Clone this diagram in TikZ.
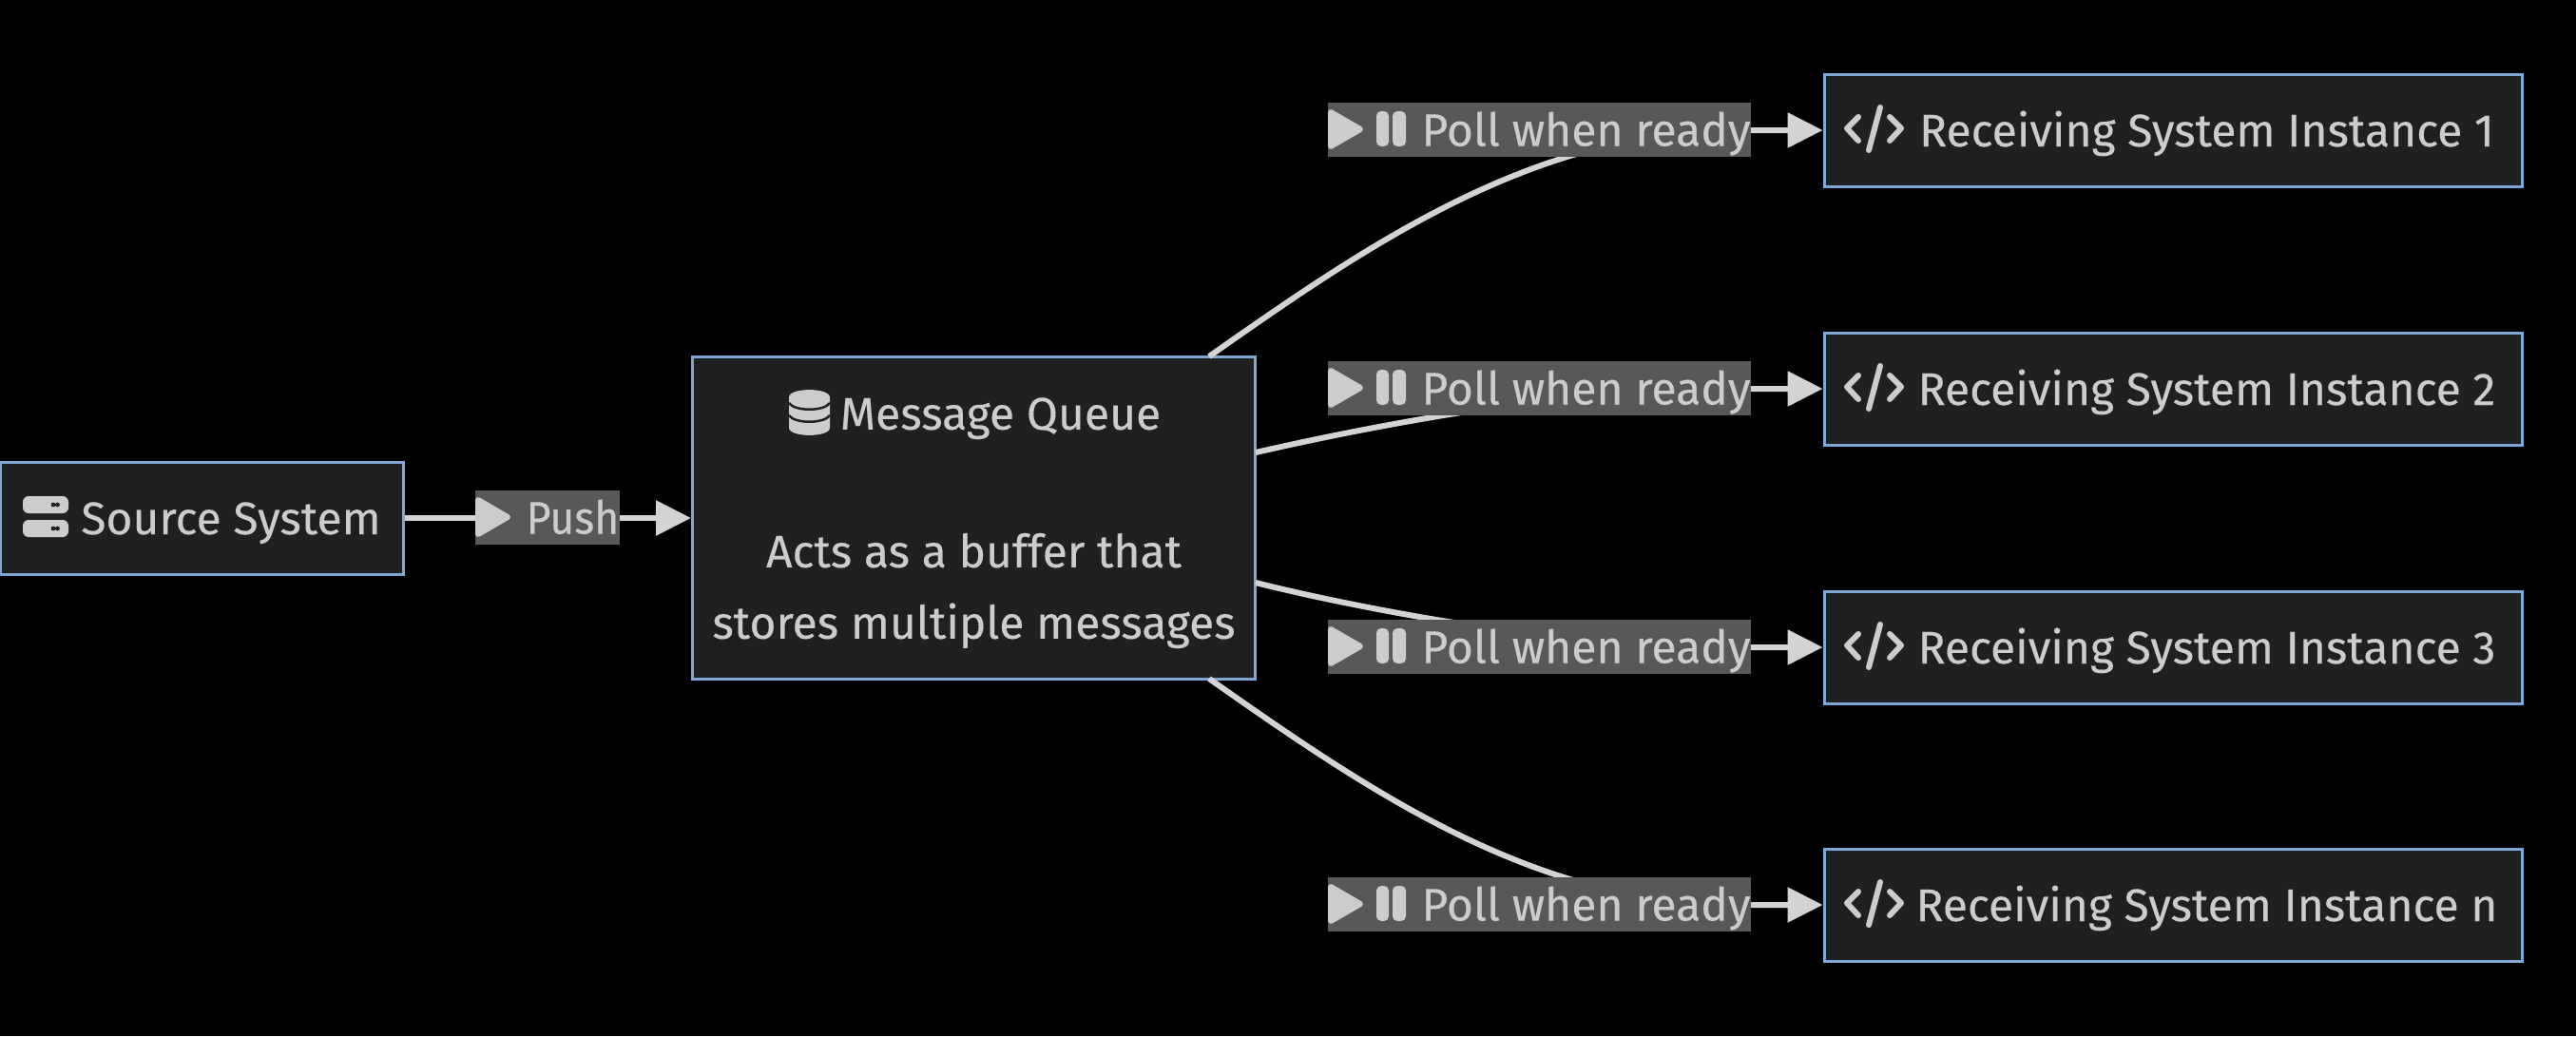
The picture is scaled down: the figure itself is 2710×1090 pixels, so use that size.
\documentclass[tikz,border=0pt]{standalone}
\usepackage{fontspec}
\setmainfont{Fira Sans}[FakeBold=0.25]
\usetikzlibrary{arrows.meta}
\definecolor{boxfill}{HTML}{1F2020}
\definecolor{boxline}{HTML}{7EA6D6}
\definecolor{ink}{HTML}{CCCCCC}
\definecolor{edgecol}{HTML}{D3D3D3}
\definecolor{labelbg}{HTML}{585858}
\tikzset{
  basebox/.style={draw=boxline,fill=boxfill,line width=3pt,inner sep=0pt,text=ink,align=center,
    font=\fontsize{48}{60}\selectfont},
  boxnode/.style={basebox,text height=44pt,text depth=10pt},
  recv/.style={boxnode,minimum width=734pt,minimum height=118pt},
  edgelabel/.style={fill=labelbg,inner sep=0pt,text=ink,minimum width=445pt,minimum height=57pt,
    font=\fontsize{48}{60}\selectfont,text height=44pt,text depth=10pt},
  flow/.style={draw=edgecol,line width=6pt,-{Triangle[length=37pt,width=36pt]}},
  playicon/.style={fill=ink,draw=ink,line width=6pt,line join=round},
  codeicon/.style={draw=ink,line width=6pt,line cap=round,line join=round},
}
\newcommand{\pollicons}[1]{%
  \path[playicon] (1400,#1-18) -- (1431,#1) -- (1400,#1+18) -- cycle;
  \fill[ink,rounded corners=5pt] (1448,#1-19) rectangle (1461,#1+18);
  \fill[ink,rounded corners=5pt] (1465,#1-19) rectangle (1479,#1+18);
}
\newcommand{\codeglyph}[1]{%
  \draw[codeicon] (1955,#1-14) -- (1943,#1-2) -- (1955,#1+11);
  \draw[codeicon] (1988,#1-14) -- (2000,#1-2) -- (1988,#1+11);
  \draw[codeicon] (1978,#1-24) -- (1966,#1+21);
}
\begin{document}
\begin{tikzpicture}[x=1pt,y=-1pt]
\useasboundingbox (0,0) rectangle (2710,1090);
\fill[black] (0,0) rectangle (2710,1090);
% nodes
\node[boxnode,minimum width=424pt,minimum height=118pt] (src) at (212,545) {\hspace*{62pt}Source System};
\node[basebox,minimum width=592pt,minimum height=339pt] (mq) at (1024.5,545)
  {\rule{0pt}{44pt}\hspace*{56pt}Message Queue\\[85pt]Acts as a buffer that\\[15pt]stores multiple messages\rule[-10pt]{0pt}{10pt}};
\node[recv] (r1) at (2286,137) {\hspace*{71pt}Receiving System Instance 1};
\node[recv] (r2) at (2286,409) {\hspace*{71pt}Receiving System Instance 2};
\node[recv] (r3) at (2286,681) {\hspace*{71pt}Receiving System Instance 3};
\node[recv] (r4) at (2286,952) {\hspace*{71pt}Receiving System Instance n};
% connectors
\coordinate (m1) at (1272,375);
\coordinate (m2) at (1321,476);
\coordinate (m3) at (1321,613);
\coordinate (m4) at (1272,714);
\draw[flow] (src.east) -- (mq.west);
\draw[flow] (m1) .. controls (1440,257) and (1610,140) .. (1820,137) -- (r1.west);
\draw[flow] (m2) .. controls (1400,458) and (1600,415) .. (1780,409) -- (r2.west);
\draw[flow] (m3) .. controls (1400,633) and (1600,675) .. (1780,681) -- (r3.west);
\draw[flow] (m4) .. controls (1440,832) and (1610,949) .. (1820,952) -- (r4.west);
% edge labels
\node[edgelabel,minimum width=152pt] (lp) at (576,544.5) {\hspace*{53pt}\scalebox{0.93}[1]{Push}};
\node[edgelabel] (l1) at (1619.5,136.5) {\hspace*{98pt}Poll when ready};
\node[edgelabel] (l2) at (1619.5,408.5) {\hspace*{98pt}Poll when ready};
\node[edgelabel] (l3) at (1619.5,680.5) {\hspace*{98pt}Poll when ready};
\node[edgelabel] (l4) at (1619.5,951.5) {\hspace*{98pt}Poll when ready};
% icons
\fill[ink,rounded corners=6pt] (24,522) rectangle (72,540);
\fill[ink,rounded corners=6pt] (24,547) rectangle (72,565);
\fill[boxfill] (56,531) circle (2.4) (60.5,531) circle (2.4) (56,556) circle (2.4) (60.5,556) circle (2.4);
\path[playicon] (503,526) -- (534,544) -- (503,562) -- cycle;
\pollicons{136}
\pollicons{408}
\pollicons{680}
\pollicons{951}
\fill[ink] (830,418) .. controls (830,407.5) and (873,407.5) .. (873,418) -- (873,450)
  .. controls (873,460.5) and (830,460.5) .. (830,450) -- cycle;
\draw[boxfill,line width=2.5pt] (830,424) .. controls (836,433) and (867,433) .. (873,424);
\draw[boxfill,line width=2.5pt] (830,437) .. controls (836,446) and (867,446) .. (873,437);
\codeglyph{137}
\codeglyph{409}
\codeglyph{681}
\codeglyph{952}
\end{tikzpicture}
\end{document}
